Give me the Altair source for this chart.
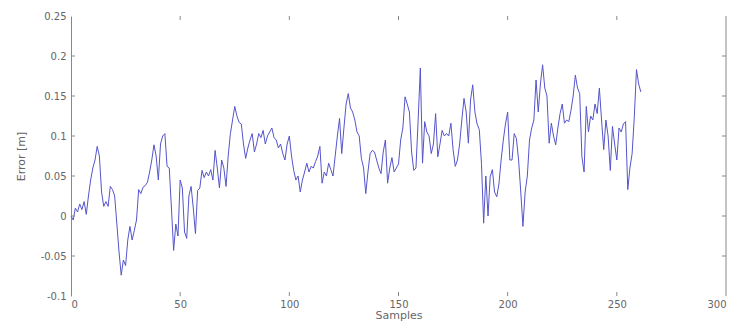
import altair as alt
import pandas as pd

errors = [
    0.000, -0.005, 0.010, 0.005, 0.015, 0.008, 0.018, 0.002, 0.025, 0.045,
    0.060, 0.070, 0.087, 0.075, 0.030, 0.012, 0.018, 0.012, 0.037, 0.033,
    0.025, -0.010, -0.045, -0.074, -0.055, -0.062, -0.030, -0.013, -0.030, -0.018,
    -0.005, 0.033, 0.028, 0.036, 0.038, 0.042, 0.055, 0.070, 0.089, 0.075,
    0.045, 0.090, 0.100, 0.103, 0.062, 0.060, 0.010, -0.043, -0.010, -0.025,
    0.045, 0.035, -0.020, -0.028, 0.025, 0.037, 0.010, -0.022, 0.032, 0.035,
    0.057, 0.048, 0.055, 0.050, 0.058, 0.045, 0.082, 0.060, 0.035, 0.070,
    0.060, 0.037, 0.075, 0.103, 0.120, 0.137, 0.125, 0.117, 0.115, 0.090,
    0.072, 0.085, 0.095, 0.103, 0.080, 0.090, 0.103, 0.098, 0.107, 0.090,
    0.100, 0.105, 0.110, 0.098, 0.095, 0.085, 0.090, 0.078, 0.070, 0.090,
    0.100, 0.075, 0.057, 0.045, 0.050, 0.030, 0.045, 0.055, 0.066, 0.055,
    0.062, 0.060, 0.068, 0.075, 0.087, 0.041, 0.055, 0.050, 0.066, 0.058,
    0.050, 0.075, 0.100, 0.122, 0.078, 0.110, 0.140, 0.153, 0.135, 0.130,
    0.120, 0.105, 0.100, 0.072, 0.060, 0.028, 0.055, 0.078, 0.082, 0.080,
    0.070, 0.060, 0.053, 0.080, 0.095, 0.041, 0.060, 0.073, 0.055, 0.060,
    0.065, 0.095, 0.110, 0.149, 0.140, 0.130, 0.080, 0.057, 0.060, 0.120,
    0.185, 0.066, 0.118, 0.105, 0.100, 0.078, 0.090, 0.128, 0.074, 0.090,
    0.107, 0.100, 0.103, 0.100, 0.116, 0.083, 0.062, 0.070, 0.090, 0.120,
    0.147, 0.130, 0.091, 0.145, 0.164, 0.130, 0.115, 0.108, 0.066, -0.009,
    0.050, 0.000, 0.049, 0.058, 0.030, 0.024, 0.040, 0.070, 0.095, 0.115,
    0.130, 0.070, 0.070, 0.103, 0.097, 0.070, 0.030, -0.013, 0.030, 0.050,
    0.095, 0.110, 0.120, 0.170, 0.130, 0.165, 0.189, 0.160, 0.150, 0.091,
    0.116, 0.100, 0.089, 0.110, 0.128, 0.140, 0.116, 0.120, 0.118, 0.132,
    0.150, 0.176, 0.160, 0.153, 0.074, 0.055, 0.137, 0.105, 0.125, 0.120,
    0.140, 0.128, 0.160, 0.120, 0.083, 0.120, 0.100, 0.057, 0.112, 0.090,
    0.070, 0.110, 0.105, 0.115, 0.118, 0.033, 0.060, 0.078, 0.124, 0.183,
    0.165, 0.155,
]
samples = list(range(len(errors)))

x_ticks = [0, 50, 100, 150, 200, 250, 300]
y_ticks = [-0.1, -0.05, 0, 0.05, 0.1, 0.15, 0.2, 0.25]
x_inner_ticks = [50, 100, 150, 200, 250]
y_inner_ticks = [-0.05, 0, 0.05, 0.1, 0.15, 0.2]

W, H = 655, 280
GRAY = "#888888"
FONT = "DejaVu Sans"

df = pd.DataFrame({"Sample": samples, "Error": errors})
xt = pd.DataFrame({"Sample": x_inner_ticks})
yt = pd.DataFrame({"Error": y_inner_ticks})
rb = pd.DataFrame({"Sample": [300], "Error": [-0.1], "Error2": [0.25]})

xscale = alt.Scale(domain=[0, 300], nice=False, zero=False)
yscale = alt.Scale(domain=[-0.1, 0.25], nice=False, zero=False)

y_label_expr = (
    "datum.value < -0.075 ? '-0.1' : datum.value < -0.025 ? '-0.05' : "
    "datum.value < 0.025 ? '0' : datum.value < 0.075 ? '0.05' : "
    "datum.value < 0.125 ? '0.1' : datum.value < 0.175 ? '0.15' : "
    "datum.value < 0.225 ? '0.2' : '0.25'"
)

ax_x = alt.Axis(values=x_ticks, domain=False, ticks=False, labelPadding=3,
                titlePadding=0, grid=False, labelOverlap=False, title="Samples")
ax_y = alt.Axis(values=y_ticks, domain=True, domainColor=GRAY, ticks=False,
                labelPadding=5, grid=False, labelOverlap=False,
                labelExpr=y_label_expr, titlePadding=14, title="Error [m]")

X = alt.X("Sample:Q", scale=xscale, axis=ax_x)
Y = alt.Y("Error:Q", scale=yscale, axis=ax_y)

line = alt.Chart(df).mark_line(color="#5555cc", strokeWidth=1).encode(x=X, y=Y)

right_border = alt.Chart(rb).mark_rule(color=GRAY).encode(
    x=X, y=Y, y2="Error2:Q")

top_ticks = alt.Chart(xt).mark_rule(color=GRAY).encode(
    x=X, y=alt.value(0), y2=alt.value(4))
bottom_ticks = alt.Chart(xt).mark_rule(color=GRAY).encode(
    x=X, y=alt.value(H), y2=alt.value(H - 4))
left_ticks = alt.Chart(yt).mark_rule(color=GRAY).encode(
    y=Y, x=alt.value(0), x2=alt.value(4))
right_ticks = alt.Chart(yt).mark_rule(color=GRAY).encode(
    y=Y, x=alt.value(W), x2=alt.value(W - 4))

chart = alt.layer(line, right_border, top_ticks, bottom_ticks, left_ticks, right_ticks).properties(
    width=W, height=H,
    autosize=alt.AutoSizeParams(type="none"),
    padding={"left": 63, "top": 8, "right": 7, "bottom": 30},
).configure_view(stroke=None).configure_axis(
    labelColor="#666666", titleColor="#666666", labelFont=FONT, titleFont=FONT,
    labelFontSize=10, titleFontSize=11, titleFontWeight="normal",
)

chart.save("out.html", embed_options={"renderer": "svg", "actions": False})
